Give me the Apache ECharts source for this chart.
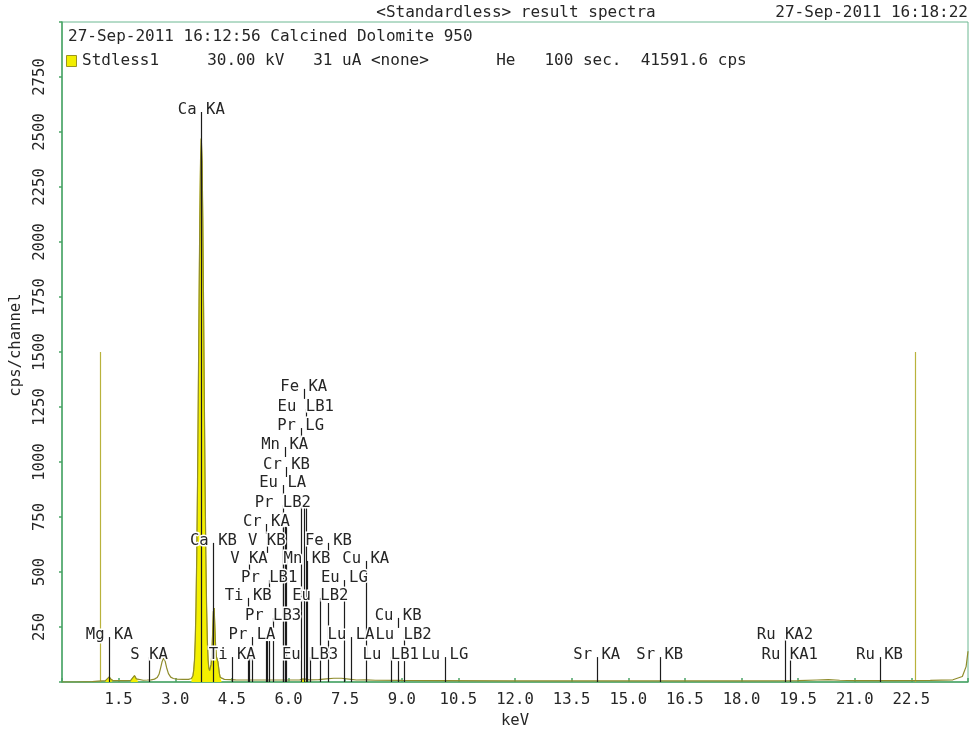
<!DOCTYPE html>
<html><head><meta charset="utf-8">
<script src="https://cdn.jsdelivr.net/npm/echarts@6/dist/echarts.min.js"></script>
<style>html,body{margin:0;padding:0;background:#fff}#c{width:972px;height:729px}</style>
</head><body><div id="c"></div>
<script>
// ---- spectrum (keV, cps/channel) ----
const energy = [0.00,0.40,0.80,0.95,1.05,1.15,1.20,1.25,1.30,1.36,1.50,1.70,1.82,1.87,1.92,1.97,2.02,2.15,2.26,2.31,2.36,2.45,2.52,2.57,2.61,2.65,2.69,2.73,2.77,2.82,2.88,2.95,3.05,3.20,3.35,3.43,3.47,3.49,3.51,3.53,3.55,3.57,3.59,3.61,3.63,3.65,3.67,3.69,3.71,3.73,3.75,3.77,3.79,3.81,3.83,3.85,3.87,3.89,3.91,3.93,3.95,3.97,3.99,4.01,4.03,4.05,4.07,4.09,4.11,4.13,4.15,4.17,4.19,4.23,4.30,4.60,5.00,5.50,6.00,6.30,6.36,6.40,6.45,6.55,6.80,7.00,7.20,7.40,7.60,7.80,8.05,8.30,9.00,10.00,12.00,14.00,16.00,18.00,19.50,20.00,20.30,20.60,21.00,22.00,23.00,23.60,23.85,23.95,24.00];
const counts = [0,0,2,4,5,6,12,23,12,6,6,6,7,14,29,14,7,8,9,13,10,13,20,35,62,92,108,96,66,38,22,16,13,12,12,16,30,55,100,190,345,580,900,1290,1710,2100,2370,2470,2370,2100,1710,1290,900,580,345,190,100,62,52,58,80,130,220,320,336,250,160,115,104,92,65,38,22,15,12,10,9,9,9,10,13,18,13,10,11,14,17,17,13,9,10,8,7,6,5,5,5,5,6,9,11,8,6,6,7,10,25,70,140];
// energy windows of the identified (yellow filled) peaks
const fillRanges = [[1.15,1.36],[1.82,2.02],[3.43,4.23],[6.36,6.45]];

// ---- peak identification markers ----
const markerLabels = ['Mg KA','S KA','Ca KA','Ca KB','Ti KA','Ti KB','V KA','Pr LA','Cr KA','V KB','Pr LB1','Pr LB3','Eu LA','Pr LB2','Mn KA','Cr KB','Pr LG','Fe KA','Eu LB1','Mn KB','Eu LB3','Eu LB2','Fe KB','Eu LG','Lu LA','Cu KA','Lu LB1','Cu KB','Lu LB2','Lu LG','Sr KA','Sr KB','Ru KA2','Ru KA1','Ru KB'];
const markerEnergy = [1.254,2.308,3.691,4.012,4.511,4.932,4.952,5.034,5.415,5.427,5.489,5.592,5.846,5.850,5.899,5.947,6.322,6.404,6.457,6.490,6.572,6.843,7.058,7.480,7.655,8.046,8.709,8.905,9.048,10.142,14.165,15.835,19.150,19.279,21.656];
const labelLevel = [177,86,2564,605,86,355,523,177,691,605,436,264,868,777,1041,950,1127,1305,1214,523,86,355,605,436,177,523,86,264,177,86,86,86,177,86,86];
const lineTop = [177,86,2564,605,86,114,114,114,186,186,186,186,705,705,705,705,810,810,810,523,86,355,359,436,177,523,86,95,95,86,86,86,177,86,86];

// ---- region markers ----
const roiEnergy = [1.01, 22.6];
const roiHeight = [1500, 1500];

// ---- axes ----
const xTickLabels = ['1.5','3.0','4.5','6.0','7.5','9.0','10.5','12.0','13.5','15.0','16.5','18.0','19.5','21.0','22.5'];
const yTickLabels = ['250','500','750','1000','1250','1500','1750','2000','2250','2500','2750'];

const MONO = "'DejaVu Sans Mono', 'Liberation Mono', monospace";
const FS = 15.6;
const FONT = FS + 'px ' + MONO;
const TXT = '#262626';
const GREEN = '#4aa465';
const FRAME = '#6cb892';

const spectrum = energy.map((e, i) => [e, counts[i]]);
const inFill = e => fillRanges.some(r => e >= r[0] - 1e-9 && e <= r[1] + 1e-9);
const fillData = energy.map((e, i) => inFill(e) ? [e, counts[i]] : [e, null]);

const chart = echarts.init(document.getElementById('c'), null, {renderer: 'canvas'});
chart.setOption({
  animation: false,
  backgroundColor: '#fff',
  grid: {left: 62, right: 4, top: 22, bottom: 47, show: true, borderColor: FRAME, borderWidth: 1, backgroundColor: 'transparent', outerBoundsMode: 'none', containLabel: false},
  xAxis: {
    type: 'value', min: 0, max: 24, interval: 1.5,
    name: 'keV', nameLocation: 'middle', nameGap: 27,
    nameTextStyle: {fontFamily: MONO, fontSize: FS, color: TXT},
    axisLine: {show: true, lineStyle: {color: GREEN, width: 1.5}},
    axisTick: {show: true, inside: true, length: 4, lineStyle: {color: GREEN, width: 1.5}},
    axisLabel: {margin: 10, fontFamily: MONO, fontSize: FS, color: TXT,
      formatter: v => { const s = v.toFixed(1); return xTickLabels.includes(s) ? s : ''; }},
    splitLine: {show: false}
  },
  yAxis: {
    type: 'value', min: 0, max: 3000, interval: 250,
    name: 'cps/channel', nameLocation: 'middle', nameGap: 38, nameRotate: 90,
    nameTextStyle: {fontFamily: MONO, fontSize: FS, color: TXT, padding: [0, 0, 0, 14]},
    axisLine: {show: true, lineStyle: {color: GREEN, width: 1.5}},
    axisTick: {show: true, inside: false, length: 3, lineStyle: {color: GREEN, width: 1.5}},
    axisLabel: {rotate: 90, margin: 14, fontFamily: MONO, fontSize: FS, color: TXT,
      formatter: v => { const s = String(Math.round(v)); return yTickLabels.includes(s) ? s : ''; }},
    splitLine: {show: false}
  },
  graphic: [
    {type: 'text', style: {x: 516, y: 13, text: '<Standardless> result spectra', font: '16px ' + MONO, fill: TXT, align: 'center', verticalAlign: 'middle', textAlign: 'center', textVerticalAlign: 'middle'}},
    {type: 'text', style: {x: 968, y: 13, text: '27-Sep-2011 16:18:22', font: '16px ' + MONO, fill: TXT, align: 'right', verticalAlign: 'middle', textAlign: 'right', textVerticalAlign: 'middle'}},
    {type: 'text', style: {x: 68, y: 37, text: '27-Sep-2011 16:12:56 Calcined Dolomite 950', font: '16px ' + MONO, fill: TXT, align: 'left', verticalAlign: 'middle', textAlign: 'left', textVerticalAlign: 'middle'}},
    {type: 'rect', shape: {x: 66.5, y: 55.5, width: 10, height: 11}, style: {fill: '#f2ee00', stroke: '#9a9420', lineWidth: 1}},
    {type: 'text', style: {x: 82, y: 61, text: 'Stdless1     30.00 kV   31 uA <none>       He   100 sec.  41591.6 cps', font: '16px ' + MONO, fill: TXT, align: 'left', verticalAlign: 'middle', textAlign: 'left', textVerticalAlign: 'middle'}}
  ],
  series: [
    {
      type: 'line', name: 'fill', data: fillData, z: 1, showSymbol: false, symbol: 'none', connectNulls: false,
      lineStyle: {color: '#d8d000', width: 1}, areaStyle: {color: '#f4f000', opacity: 1, origin: 'start'}, silent: true
    },
    {
      type: 'line', name: 'spectrum', data: spectrum, z: 2, showSymbol: false, symbol: 'none',
      lineStyle: {color: '#8f8c2c', width: 1.2}, silent: true
    },
    {
      type: 'custom', name: 'roi', z: 2, silent: true,
      data: roiEnergy.map((e, i) => [e, roiHeight[i]]),
      renderItem: (p, api) => {
        const a = api.coord([api.value(0), 0]), b = api.coord([api.value(0), api.value(1)]);
        const x = Math.round(a[0]) + 0.5;
        return {type: 'line', shape: {x1: x, y1: a[1], x2: x, y2: b[1]}, style: {stroke: '#b9b23c', lineWidth: 1.2}};
      }
    },
    {
      type: 'custom', name: 'markers', z: 3, silent: true,
      data: markerEnergy.map((e, i) => [e, lineTop[i], labelLevel[i]]),
      encode: {x: 0, y: 1},
      renderItem: (p, api) => {
        const e = api.value(0), top = api.value(1), lvl = api.value(2);
        const b = api.coord([e, 0]), l = api.coord([e, lvl]);
        const x = Math.round(b[0]) + 0.5;
        const st = {stroke: '#1c1c1c', lineWidth: 1.2};
        const ch = [];
        if (top >= lvl) {
          ch.push({type: 'line', shape: {x1: x, y1: b[1], x2: x, y2: l[1] - 6}, style: st});
        } else {
          const t = api.coord([e, top]);
          ch.push({type: 'line', shape: {x1: x, y1: b[1], x2: x, y2: t[1]}, style: st});
          ch.push({type: 'line', shape: {x1: x, y1: l[1] + 4, x2: x, y2: l[1] - 6}, style: st});
        }
        return {type: 'group', children: ch};
      }
    },
    {
      type: 'custom', name: 'labels', z: 4, silent: true,
      data: markerEnergy.map((e, i) => [e, labelLevel[i]]),
      encode: {x: 0, y: 1},
      renderItem: (p, api) => {
        const c = api.coord([api.value(0), api.value(1)]);
        const txt = markerLabels[p.dataIndex];
        const base = {text: txt, x: c[0], y: c[1], font: FONT, align: 'center', verticalAlign: 'bottom', textAlign: 'center', textVerticalAlign: 'bottom'};
        return {type: 'group', children: [
          {type: 'text', z2: 1, style: Object.assign({}, base, {fill: '#fff', stroke: '#fff', lineWidth: 3})},
          {type: 'text', z2: 2, style: Object.assign({}, base, {fill: TXT})}
        ]};
      }
    }
  ]
});
</script>
</body></html>
